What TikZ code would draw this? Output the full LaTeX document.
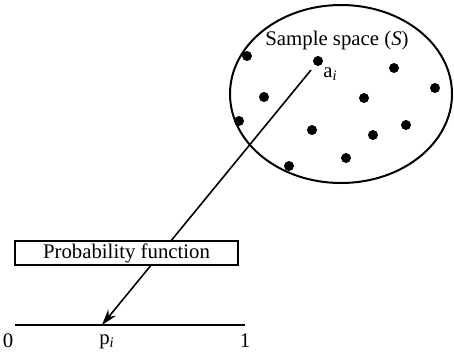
\documentclass[tikz,border=0pt]{standalone}
\usepackage{fontspec}
\setmainfont{Liberation Serif}
\usetikzlibrary{arrows.meta}
\tikzset{
  dot/.style={circle,fill=black,inner sep=0pt,minimum size=5pt},
  funcbox/.style={draw,line width=0.7pt,fill=white,minimum width=111.5pt,minimum height=12pt,inner sep=0pt},
  lbl/.style={inner sep=0pt,font=\fontsize{10.4}{12}\selectfont}
}
\begin{document}
\begin{tikzpicture}[x=0.5pt,y=-0.5pt]
\useasboundingbox (0,0) rectangle (454,355);
% sample space
\draw[line width=1pt] (341,94) ellipse [x radius=111,y radius=89];
\node[lbl] (title) at (337,40) {Sample space (\textit{S})};
\node[dot] (ai) at (318,61) {};
\node[lbl,anchor=west] (ailbl) at (323,74) {a\textsubscript{\textit{i}}};
\foreach \px/\py [count=\k] in {247/56,394/68,435/88,264/97,364/98,239/121,312/130,406/125,373/135,346/158,289/166}
  \node[dot] (s\k) at (\px,\py) {};
% unit interval
\coordinate (zero) at (15,325);
\coordinate (one) at (245,325);
\coordinate (pi) at (102,325);
\draw[line width=0.8pt] (zero) -- (one);
\node[lbl] (l0) at (8,341) {0};
\node[lbl] (l1) at (245,341) {1};
\node[lbl] (lp) at (107,342) {p\textsubscript{\textit{i}}};
% mapping
\coordinate (start) at (311,70);
\draw[line width=0.8pt,-{Stealth[length=8pt,width=5pt]}] (start) -- (pi);
\node[funcbox,lbl] (func) at (126.5,253) {Probability function};
\end{tikzpicture}
\end{document}
